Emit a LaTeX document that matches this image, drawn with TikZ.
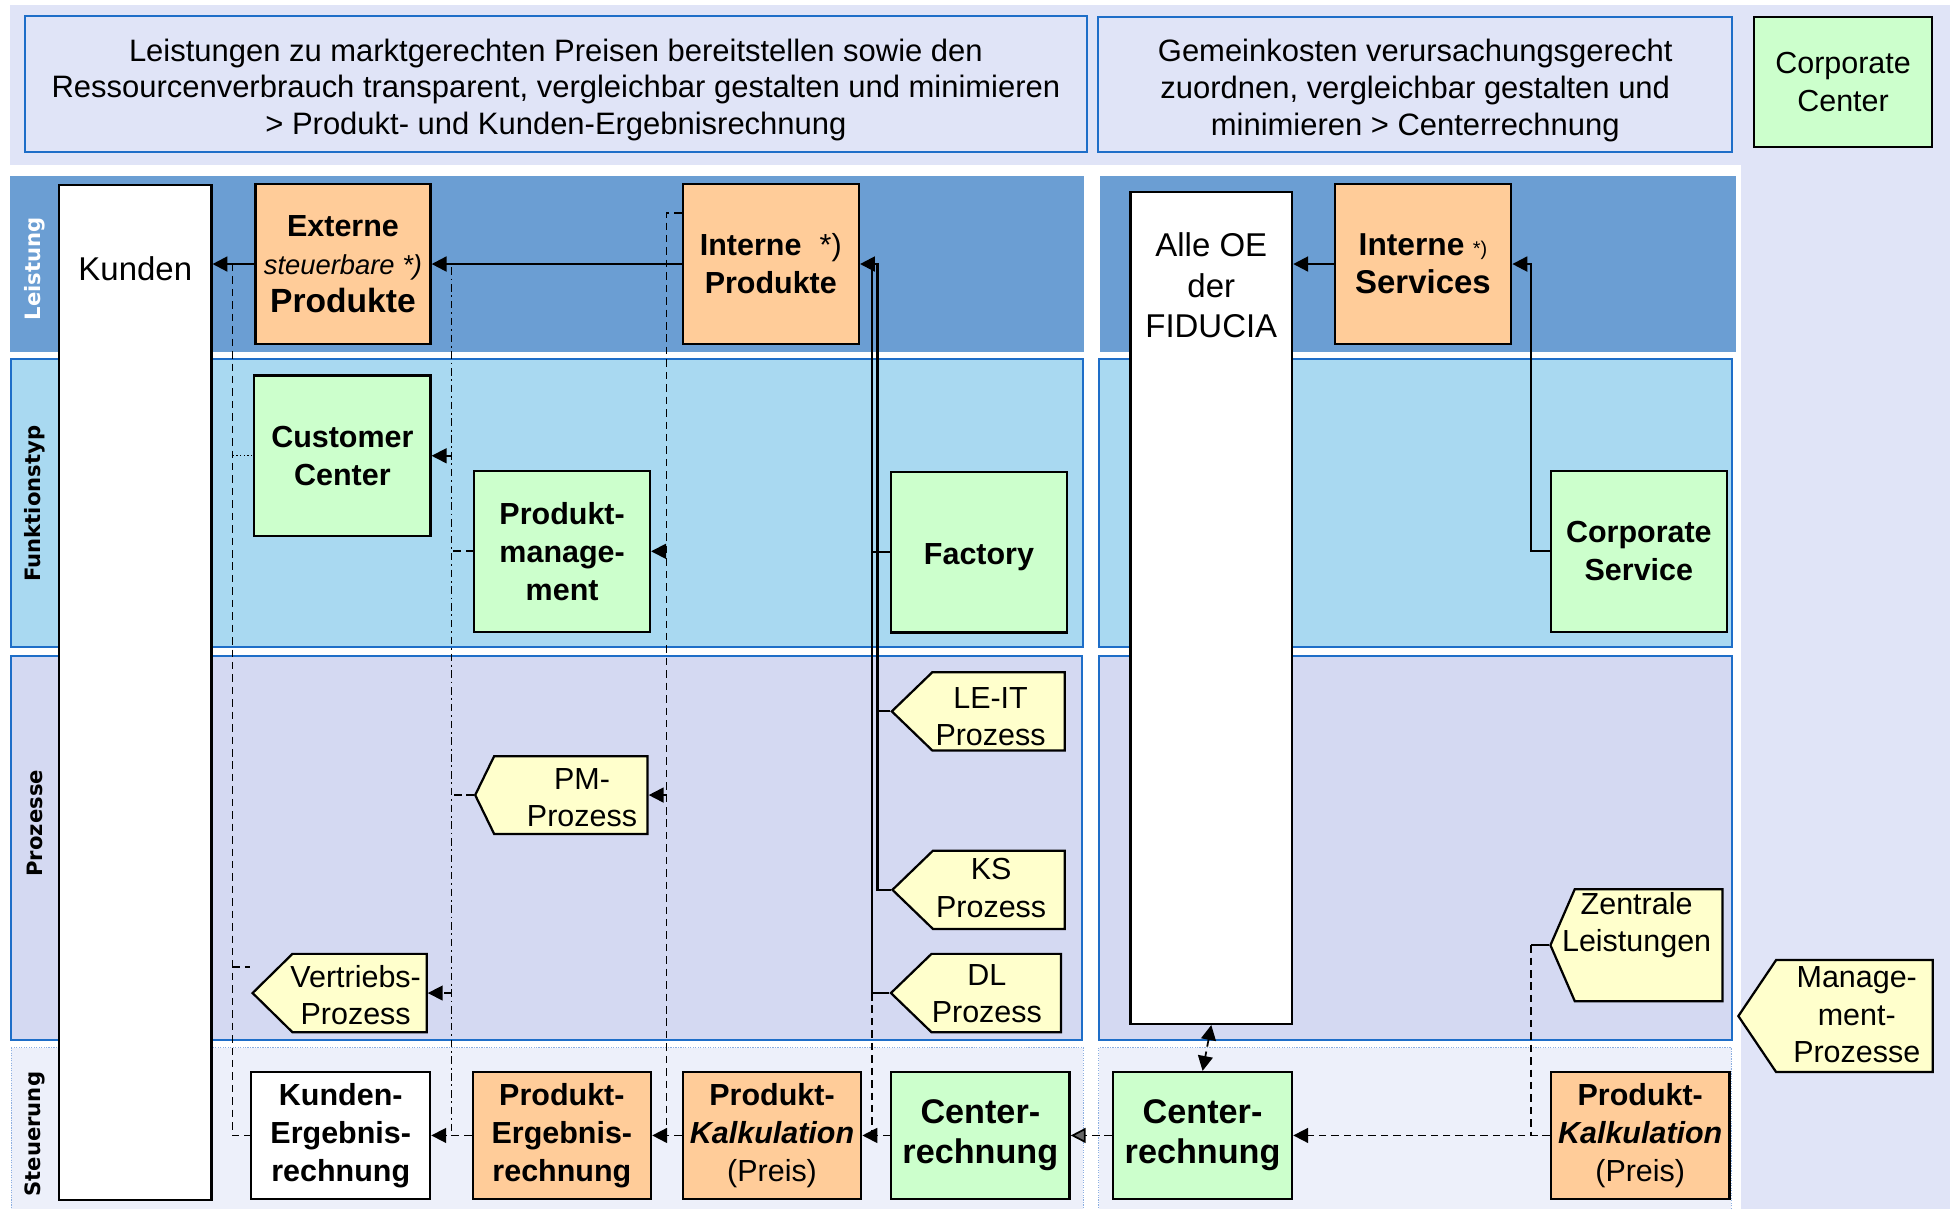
\documentclass[tikz,border=0pt]{standalone}
\usepackage{fontspec}
\setmainfont{Liberation Sans}
\newfontfamily\lanefont{DejaVu Sans}
\usetikzlibrary{shapes.symbols,arrows.meta}

\definecolor{pagebg}{RGB}{224,228,247}
\definecolor{rowblue}{RGB}{107,158,211}
\definecolor{rowsky}{RGB}{169,217,241}
\definecolor{rowproc}{RGB}{212,217,242}
\definecolor{rowsteer}{RGB}{237,240,250}
\definecolor{rowedge}{RGB}{30,110,200}
\definecolor{steeredge}{RGB}{140,175,225}
\definecolor{peach}{RGB}{255,204,153}
\definecolor{mint}{RGB}{204,255,204}
\definecolor{cream}{RGB}{255,255,204}

\newcommand\fsz[2]{\fontsize{#1}{#2}\selectfont}

\begin{document}
\begin{tikzpicture}[x=1pt,y=-1pt,
  box/.style={draw=black, line width=1.8pt, align=center, inner sep=0pt,
              font=\fsz{24.5}{30.5}\bfseries},
  peachbox/.style={box, fill=peach},
  mintbox/.style={box, fill=mint},
  whitebox/.style={box, fill=white},
  boxsize/.style 2 args={minimum width=#1pt, minimum height=#2pt},
  procshape/.style={signal, signal to=west, draw=black, line width=1.8pt,
                    fill=cream, inner sep=0pt, anchor=east},
  proctext/.style={align=center, inner sep=0pt, font=\fsz{24.5}{30}},
  goal/.style={draw=rowedge, line width=1.5pt, fill=pagebg, align=center,
               inner sep=0pt, font=\fsz{24.9}{29.5}},
  lanelabel/.style={rotate=90, font=\lanefont\bfseries\fsz{17}{20}, inner sep=0pt},
  conn/.style={line width=1.8pt},
  dconn/.style={line width=1.4pt, dash pattern=on 6pt off 4pt},
  ddconn/.style={line width=1.3pt, dash pattern=on 6pt off 3pt on 1.5pt off 3pt},
  dotconn/.style={line width=1pt, dash pattern=on 1pt off 2pt},
  arr/.style={-{Triangle[length=12pt,width=12pt]}},
  arrboth/.style={{Triangle[length=12pt,width=12pt]}-{Triangle[length=12pt,width=12pt]}},
]
\useasboundingbox (0,0) rectangle (1568,972);
\fill[white] (0,0) rectangle (1568,972);

% page background: goal strip on top and column on the right
\fill[pagebg] (8,4) rectangle (1568,133);
\fill[pagebg] (1400,4) rectangle (1568,972);

% swim lanes
\fill[rowblue] (8,141.5) rectangle (871.5,283);
\fill[rowblue] (884.5,141.5) rectangle (1396,283);
\filldraw[fill=rowsky, draw=rowedge, line width=1.5pt] (9,289) rectangle (870.5,520.5);
\filldraw[fill=rowsky, draw=rowedge, line width=1.5pt] (883.5,289) rectangle (1392.5,520.5);
\filldraw[fill=rowproc, draw=rowedge, line width=1.5pt] (9,527.5) rectangle (870,836);
\filldraw[fill=rowproc, draw=rowedge, line width=1.5pt] (883.5,527.5) rectangle (1392.5,836);
\filldraw[fill=rowsteer, draw=steeredge, line width=1pt, densely dotted] (9,842.5) rectangle (871,990);
\filldraw[fill=rowsteer, draw=steeredge, line width=1pt, densely dotted] (883.5,842.5) rectangle (1392,990);

\node[lanelabel, text=white] (lblL) at (28,216) {Leistung};
\node[lanelabel] (lblF) at (28,405) {Funktionstyp};
\node[lanelabel] (lblP) at (28,662) {Prozesse};
\node[lanelabel] (lblS) at (28,912) {Steuerung};

% goals
\node[goal, boxsize={854}{109}] (goal1) at (447,67.5)
  {\rule{0pt}{5pt}\\[-7pt]Leistungen zu marktgerechten Preisen bereitstellen sowie den\\
   Ressourcenverbrauch transparent, vergleichbar gestalten und minimieren\\
   > Produkt- und Kunden-Ergebnisrechnung};
\node[goal, boxsize={510}{109}] (goal2) at (1138,68)
  {\rule{0pt}{5pt}\\[-7pt]Gemeinkosten verursachungsgerecht\\zuordnen, vergleichbar gestalten und\\minimieren > Centerrechnung};
\node[mintbox, line width=1.5pt, font=\fsz{24.5}{30}, boxsize={143}{104}] (ccenter) at (1482,66)
  {Corporate\\Center};

% left part: products and customers
\node[whitebox, boxsize={122.4}{816}] (kunden) at (108.8,557) {};
\node[font=\fsz{26.5}{30}, inner sep=0pt] (kundenT) at (108.8,216) {Kunden};
\node[peachbox, boxsize={140.8}{128.6}] (ext) at (275.8,212.3)
  {Externe\\{\mdseries\itshape\fsz{22}{29}steuerbare *)}\\{\fsz{27}{30}Produkte}};
\node[peachbox, boxsize={141.7}{128.6}] (intP) at (619.8,212.3)
  {Interne\hspace{0.6em}{\mdseries *)}\\Produkte};
\node[mintbox, boxsize={141.7}{129}] (cc) at (275.3,366.5) {Customer\\Center};
\node[mintbox, boxsize={141.3}{129.3}] (pm) at (452,443.3) {Produkt-\\manage-\\ment};
\node[mintbox, boxsize={142}{129}, text height=20pt, text depth=0pt] (fact) at (787.2,444) {Factory};

% right part: internal services
\node[whitebox, boxsize={130}{668.7}] (alle) at (974,489) {};
\node[font=\fsz{26.5}{32.5}, align=center, inner sep=0pt] (alleT) at (974,229.5)
  {Alle OE\\der\\FIDUCIA};
\node[peachbox, boxsize={142}{128.6}] (intS) at (1144.2,212.3)
  {{\fsz{25.5}{30}Interne} {\mdseries\fsz{16}{20}*)}\\{\fsz{26.5}{30}Services}};
\node[mintbox, boxsize={141.8}{129.3}] (cs) at (1317.8,443.3) {Corporate\\Service};

% processes (anchored at their flat right side)
\node[procshape, boxsize={139}{63}, signal pointer angle=88] (leit) at (857,572) {};
\node[proctext] (leitT) at (796.5,576.5) {LE-IT\\Prozess};
\node[procshape, boxsize={138.5}{63}, signal pointer angle=88] (ks) at (857,715.5) {};
\node[proctext] (ksT) at (797,714) {KS\\Prozess};
\node[procshape, boxsize={136.7}{63}, signal pointer angle=88] (dl) at (854,798.5) {};
\node[proctext] (dlT) at (793.5,799) {DL\\Prozess};
\node[procshape, boxsize={138.6}{62.5}, signal pointer angle=128] (pmp) at (521.6,639.3) {};
\node[proctext] (pmpT) at (468,641.5) {PM-\\Prozess};
\node[procshape, boxsize={140}{63}, signal pointer angle=89] (vert) at (344,798.5) {};
\node[proctext] (vertT) at (286,800) {Vertriebs-\\Prozess};
\node[procshape, boxsize={138.4}{90}, signal pointer angle=133] (zl) at (1386,760) {};
\node[proctext] (zlT) at (1316,744) {Zentrale\\Leistungen};
\node[procshape, boxsize={156.3}{90}, signal pointer angle=112] (mp) at (1555,817) {};
\node[proctext] (mpT) at (1493,816) {Manage-\\ment-\\Prozesse};

% controlling
\node[whitebox, boxsize={143.8}{102}] (kerg) at (274,913) {Kunden-\\Ergebnis-\\rechnung};
\node[peachbox, boxsize={143.5}{102}] (perg) at (451.8,913) {Produkt-\\Ergebnis-\\rechnung};
\node[peachbox, boxsize={143.5}{102}] (kalk1) at (620.8,913)
  {Produkt-\\{\itshape Kalkulation}\\{\mdseries (Preis)}};
\node[mintbox, boxsize={143.5}{102}, font=\fsz{27.5}{32}\bfseries] (center1) at (788.3,913)
  {Center-\\rechnung};
\node[mintbox, boxsize={144}{102}, font=\fsz{27.5}{32}\bfseries] (center2) at (967,913)
  {Center-\\rechnung};
\node[peachbox, boxsize={143.4}{102}] (kalk2) at (1318.9,913)
  {Produkt-\\{\itshape Kalkulation}\\{\mdseries (Preis)}};

% bus coordinates
\coordinate (busL) at (701,212.3);
\coordinate (busR) at (705.5,212.3);
\coordinate (pmTop) at (536,171);
\coordinate (extBus) at (363,215);
\coordinate (kdBus) at (187,212.3);
\coordinate (csBus) at (1231,212.3);

% factory and its processes feed the internal products
\draw[conn,arr] (fact.west) -| (busL) -- (intP.east);
\draw[conn] (ks.west) -| (busR) -- (busL);
\draw[conn] (leit.west) -- (leit.west -| busR);
\draw[conn] (dl.west) -- (dl.west -| busL) -- (fact.west -| busL);
\draw[dconn] (dl.west -| busL) -- (kalk1.east -| busL);
\draw[dconn,arr] (center1.west) -- (kalk1.east);

% internal products to external products and product management
\draw[conn,arr] (intP.west) -- (ext.east);
\draw[dconn] (intP.west |- pmTop) -- (pmTop) -- (pmTop |- kalk1.west);
\draw[dconn,arr] (pmTop |- pm.east) -- (pm.east);
\draw[dconn,arr] (pmTop |- pmp.east) -- (pmp.east);
\draw[dconn,arr] (kalk1.west) -- (perg.east);

% external products to customer center and sales
\draw[ddconn] (extBus) -- (extBus |- perg.west);
\draw[ddconn,arr] (extBus |- cc.east) -- (cc.east);
\draw[ddconn,arr] (extBus |- vert.east) -- (vert.east);
\draw[dconn] (pm.west) -- (pm.west -| extBus);
\draw[dconn] (pmp.west) -- (pmp.west -| extBus);
\draw[dconn,arr] (perg.west) -- (kerg.east);

% customers
\draw[conn,arr] (ext.west) -- (ext.west -| kunden.east);
\draw[dconn] (kdBus) -- (kdBus |- kerg.west) -- (kerg.west);
\draw[dotconn] (kdBus |- cc.west) -- (cc.west);
\draw[dconn] ([yshift=21pt]vert.west -| kdBus) -- ([yshift=21pt,xshift=-1pt]vert.west);

% internal services
\draw[conn,arr] (intS.west) -- (intS.west -| alle.east);
\draw[conn,arr] (cs.west) -| (csBus) -- (intS.east);
\draw[conn] (zl.west) -- (zl.west -| csBus);
\draw[dconn] (zl.west -| csBus) -- (kalk2.west -| csBus);
\draw[dconn,arr] (kalk2.west) -- (center2.east);
\draw[dconn,arrboth] (alle.south) -- (center2.north);
\draw[dconn,-{Triangle[length=12pt,width=12pt,fill=black!60]}] (center2.west) -- (center1.east);
\end{tikzpicture}
\end{document}
